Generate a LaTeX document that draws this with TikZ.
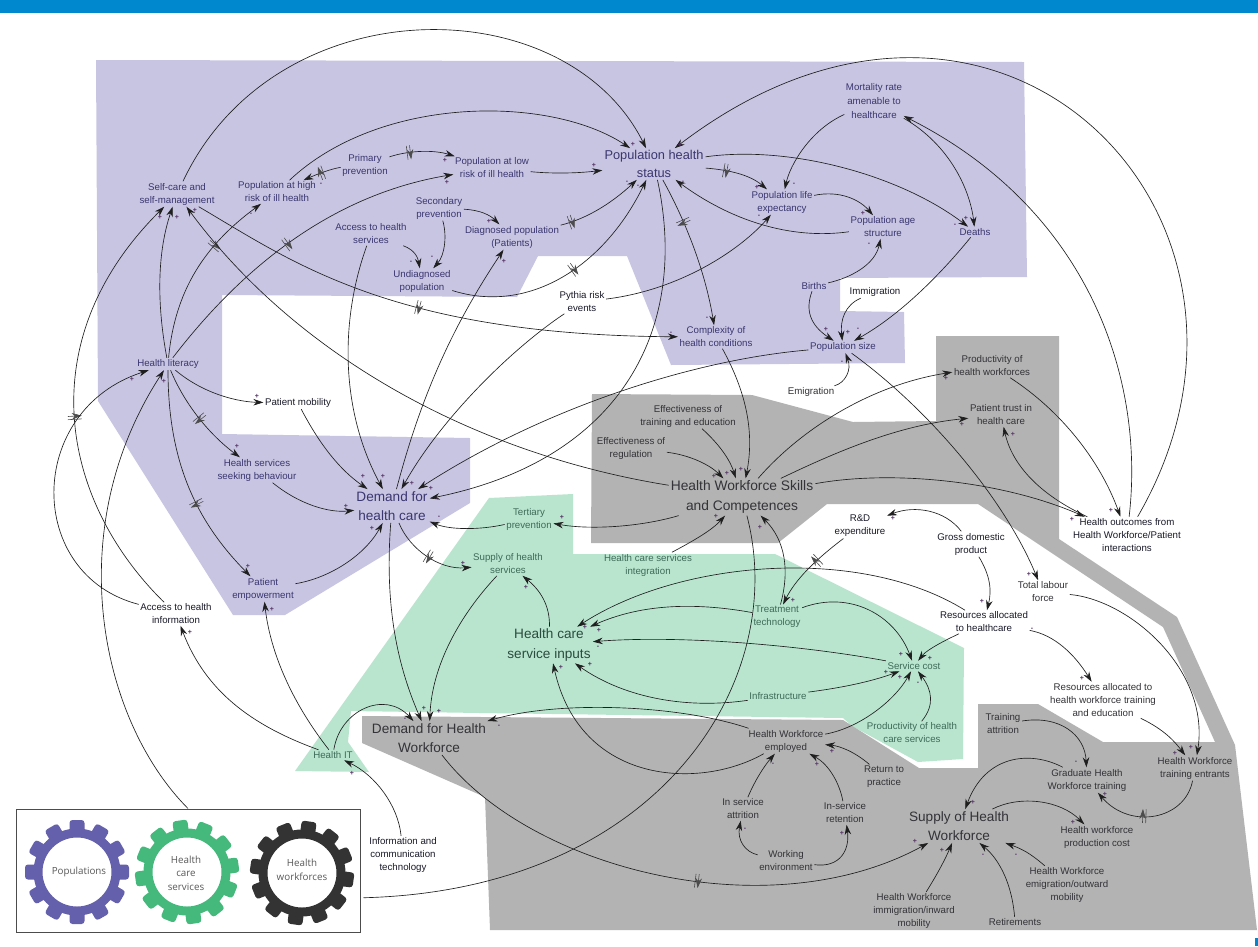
\documentclass[tikz,border=0pt]{standalone}
\usepackage{fontspec}
\setmainfont{Liberation Sans}
\newfontfamily\gearfont{Open Sans}
\usetikzlibrary{arrows.meta,decorations.markings}
\definecolor{purp}{HTML}{C8C5E2}
\definecolor{grn}{HTML}{B9E5CF}
\definecolor{gry}{HTML}{B3B3B3}
\definecolor{barblue}{HTML}{0088CE}
\definecolor{gearp}{HTML}{6460AB}
\definecolor{gearg}{HTML}{45B97C}
\definecolor{geark}{HTML}{333333}
\definecolor{tp}{HTML}{3A3670}
\definecolor{tg}{HTML}{3E6B58}
\definecolor{tk}{HTML}{333338}
\definecolor{tw}{HTML}{1A1A2A}
\definecolor{sgc}{HTML}{553366}
\tikzset{
  lbl/.style={align=center,inner sep=1.5pt,font=\fontsize{9.7}{13}\selectfont},
  big/.style={align=center,inner sep=2pt,font=\fontsize{13.6}{19.5}\selectfont},
  lp/.style={lbl,text=tp}, lg/.style={lbl,text=tg}, lk/.style={lbl,text=tk}, lw/.style={lbl,text=tw},
  lnk/.style={draw=black!88,line width=0.65pt,-{Stealth[length=10pt,width=6.5pt]}},
  plain/.style={draw=black!88,line width=0.65pt},
  hashln/.style={draw=black!70,line width=0.6pt},
  dly/.style={postaction={decorate},decoration={markings,mark=at position #1 with {\draw[hashln] (-1.6,-7)--(-1.6,7) (1.6,-7)--(1.6,7);}}},
  sgn/.style={inner sep=0pt,text=sgc,font=\fontsize{7}{7}\selectfont\bfseries},
  geartxt/.style={align=center,inner sep=0pt,text=black!65,font=\gearfont\fontsize{9.8}{13.5}\selectfont}
}
\newcommand{\lnkc}[5][]{\draw[lnk,#1] (#2) .. controls (#3) and (#4) .. (#5);}
\newcommand{\geardraw}[4]{%
  \foreach \a in {0,30,...,330}{\fill[#4,rounded corners=3pt,rotate around={\a+#3:(#1,#2)}] (#1-7.5,#2-52) rectangle (#1+7.5,#2-40);}
  \fill[#4,even odd rule] (#1,#2) circle (43.5pt) circle (34.5pt);}
\begin{document}
\begin{tikzpicture}[x=1pt,y=-1pt]
\useasboundingbox (0,0) rectangle (1258,946);
\fill[white] (0,0) rectangle (1258,946);
\fill[barblue] (0,0) rectangle (1258,12.5);
\fill[barblue] (1255,938) rectangle (1258,946);
% regions
\fill[purp] (96,60) -- (1024,62) -- (1027,277) -- (840,278) -- (840,311) -- (904,312) -- (905,363) -- (671,365) -- (627,256) -- (538,256) -- (517,297) -- (222,295) -- (222,434) -- (470,438) -- (470,503) -- (285,615) -- (233,615) -- (98,401) -- cycle;
\fill[grn] (489,498) -- (573,494) -- (573,554) -- (775,554) -- (964,648) -- (963,759) -- (918,762) -- (852,726) -- (843,718) -- (480,713) -- (351,711) -- (348,742) -- (369,772) -- (295,771) -- cycle;
\fill[gry] (592,394) -- (752,395) -- (853,422) -- (936,421) -- (936,336) -- (1059,336) -- (1059,539) -- (1177,617) -- (1235,745) -- (1257,930) -- (490,930) -- (485,797) -- (362,743) -- (362,716) -- (843,720) -- (919,768) -- (978,768) -- (978,704) -- (1038,704) -- (1103,742) -- (1215,742) -- (1163,627) -- (978,504) -- (827,504) -- (778,543) -- (591,543) -- cycle;
% legend
\node[draw=black!70,line width=1pt,fill=white,minimum width=344pt,minimum height=123pt,inner sep=0pt] (legend) at (188,870.5) {};
\geardraw{77}{872}{0}{gearp}
\geardraw{187}{872}{8}{gearg}
\geardraw{302}{873}{-8}{geark}
\node[geartxt] (gp) at (79,872) {Populations};
\node[geartxt] (gg) at (186,873) {Health\\care\\services};
\node[geartxt] (gk) at (302,870) {Health\\workforces};
% nodes: purple
\node[lp] (self) at (177,194) {Self-care and\\self-management};
\node[lp] (high) at (277,192) {Population at high\\risk of ill health};
\node[lp] (prim) at (365,165) {Primary\\prevention};
\node[lp] (low) at (492,168) {Population at low\\risk of ill health};
\node[big,text=tp,font=\fontsize{12.8}{18}\selectfont] (phs) at (654,164) {Population health\\status};
\node[lp] (sec) at (439,208) {Secondary\\prevention};
\node[lp] (diag) at (512,237) {Diagnosed population\\(Patients)};
\node[lp] (accs) at (371,234) {Access to health\\services};
\node[lp] (undi) at (422,281) {Undiagnosed\\population};
\node[lw] (pyth) at (582,302) {Pythia risk\\events};
\node[lp,font=\fontsize{9.7}{13.6}\selectfont] (mort) at (874,101) {Mortality rate\\amenable to\\healthcare};
\node[lp] (life) at (782,202) {Population life\\expectancy};
\node[lp] (age) at (883,227) {Population age\\structure};
\node[lp] (death) at (975,232) {Deaths};
\node[lp] (birth) at (814,286) {Births};
\node[lw] (immi) at (875,292) {Immigration};
\node[lp] (cplx) at (716,337) {Complexity of\\health conditions};
\node[lp] (psize) at (843,347) {Population size};
\node[lk] (emi) at (811,392) {Emigration};
\node[lp] (lit) at (168,364) {Health literacy};
\node[lw] (pmob) at (298,403) {Patient mobility};
\node[lp] (seek) at (257,470) {Health services\\seeking behaviour};
\node[lp] (pemp) at (263,589) {Patient\\empowerment};
\node[lw] (ainf) at (176,614) {Access to health\\information};
\node[big,text=tp] (dhc) at (392,506) {Demand for\\health care};
% grey
\node[lk] (prod) at (992,366) {Productivity of\\health workforces};
\node[lk] (trust) at (1001,415) {Patient trust in\\health care};
\node[lw] (outc) at (1127,535) {Health outcomes from\\Health Workforce/Patient\\interactions};
\node[lk] (efft) at (688,416) {Effectiveness of\\training and education};
\node[lk] (effr) at (631,448) {Effectiveness of\\regulation};
\node[big,text=tk,font=\fontsize{13.8}{20}\selectfont] (hws) at (742,497) {Health Workforce Skills\\and Competences};
% white
\node[lw] (rd) at (860,526) {R\&D\\expenditure};
\node[lw] (gdp) at (971,544) {Gross domestic\\product};
\node[lk] (labo) at (1043,592) {Total labour\\force};
\node[lw] (rhc) at (984,622) {Resources allocated\\to healthcare};
\node[lk] (rtr) at (1103,700) {Resources allocated to\\health workforce training\\and education};
\node[lw] (info) at (403,855) {Information and\\communication\\technology};
% green
\node[lg] (tert) at (529,519) {Tertiary\\prevention};
\node[lg] (shs) at (508,564) {Supply of health\\services};
\node[lg] (integ) at (648,565) {Health care services\\integration};
\node[lg] (treat) at (777,617) {Treatment\\technology};
\node[big,text=tg!70!black] (inp) at (549,645) {Health care\\service inputs};
\node[lg] (cost) at (914,666) {Service cost};
\node[lg] (infr) at (778,696) {Infrastructure};
\node[lg] (phc) at (912,733) {Productivity of health\\care services};
\node[lg] (hit) at (333,755) {Health IT};
% grey lower
\node[big,text=tk] (dhw) at (429,738) {Demand for Health\\Workforce};
\node[lk] (emp) at (786,741) {Health Workforce\\employed};
\node[lk] (ret) at (884,777) {Return to\\practice};
\node[lk] (att) at (743,809) {In service\\attrition};
\node[lk] (reten) at (845,813) {In-service\\retention};
\node[lk] (work) at (786,861) {Working\\environment};
\node[big,text=tk] (shw) at (959,826) {Supply of Health\\Workforce};
\node[lk] (himm) at (914,911) {Health Workforce\\immigration/inward\\mobility};
\node[lk] (reti) at (1015,922) {Retirements};
\node[lk] (hemi) at (1067,885) {Health Workforce\\emigration/outward\\mobility};
\node[lk] (pcost) at (1097,837) {Health workforce\\production cost};
\node[lk] (grad) at (1087,780) {Graduate Health\\Workforce training};
\node[lk] (tatt) at (1003,724) {Training\\attrition};
\node[lk] (entr) at (1195,768) {Health Workforce\\training entrants};
% connectors
\lnkc{self}{275,-14}{565,-14}{phs}
\lnkc{high}{380,95}{550,95}{phs}
\lnkc[dly=0.3]{prim}{410,150}{435,150}{low}
\lnkc[dly=0.5]{prim}{335,168}{322,172}{high}
\lnkc{low}{555,174}{580,173}{phs}
\lnkc[dly=0.47]{lit}{240,270}{330,195}{low}
\lnkc{lit}{156,300}{158,250}{self}
\lnkc[dly=0.66]{lit}{175,290}{205,245}{high}
\lnkc[dly=0.47]{ainf}{60,500}{30,340}{self}
\lnkc{ainf}{25,575}{25,410}{lit}
\draw[lnk] (legend.north) .. controls (100,720) and (60,530) .. (lit);
\draw[plain,shorten >=3pt] (hws) .. controls (790,680) and (660,890) .. (legend.-9);
\lnkc{hws}{480,455}{300,360}{self}
\lnkc[dly=0.48]{self}{290,260}{390,335}{cplx}
\lnkc{lit}{205,395}{240,402}{pmob}
\lnkc[dly=0.5]{lit}{185,405}{210,435}{seek}
\lnkc[dly=0.6]{lit}{168,460}{195,520}{pemp}
\lnkc{pmob}{320,445}{340,470}{dhc}
\lnkc{accs}{340,320}{340,410}{dhc}
\lnkc{seek}{300,505}{330,513}{dhc}
\lnkc{pemp}{330,578}{365,555}{dhc}
\lnkc{hit}{290,700}{270,650}{pemp}
\lnkc{hit}{250,725}{205,690}{ainf}
\lnkc{info}{398,805}{375,775}{hit}
\lnkc{hit}{340,710}{385,690}{dhw}
\lnkc{dhc}{385,600}{395,660}{dhw}
\lnkc{shs}{460,615}{432,665}{dhw}
\lnkc[dly=0.5]{dhc}{410,550}{440,570}{shs}
\lnkc{inp}{550,605}{540,590}{shs}
\lnkc{hws}{640,527}{590,530}{tert}
\lnkc{tert}{480,530}{450,530}{dhc}
\lnkc{phs}{690,330}{620,460}{dhc}
\lnkc{psize}{690,360}{540,410}{dhc}
\lnkc{pyth}{510,350}{440,420}{dhc}
\lnkc{dhc}{420,400}{450,330}{diag}
\lnkc{pyth}{680,290}{740,250}{life}
\lnkc[dly=0.52]{undi}{530,315}{605,265}{phs}
\lnkc[dly=0.12]{diag}{590,218}{615,200}{phs}
\lnkc{sec}{480,210}{490,215}{diag}
\lnkc{sec}{447,235}{445,255}{undi}
\lnkc{accs}{415,250}{418,258}{undi}
\lnkc[dly=0.3]{phs}{730,170}{750,175}{life}
\lnkc{phs}{790,145}{900,175}{death}
\lnkc[dly=0.3]{phs}{685,220}{705,270}{cplx}
\lnkc{age}{790,240}{730,220}{phs}
\lnkc{life}{840,190}{860,200}{age}
\lnkc{mort}{810,130}{790,165}{life}
\lnkc{mort}{950,145}{970,190}{death}
\lnkc{outc}{1145,380}{1090,210}{mort}
\lnkc{outc}{1310,220}{1000,-100}{phs}
\lnkc{death}{940,275}{900,315}{psize}
\lnkc{birth}{805,310}{810,325}{psize}
\lnkc{birth}{850,278}{875,265}{age}
\lnkc{immi}{845,305}{840,320}{psize}
\lnkc{emi}{845,383}{852,370}{psize}
\lnkc{psize}{930,410}{1005,500}{labo}
\lnkc{cplx}{745,390}{755,430}{hws}
\lnkc{efft}{720,445}{730,460}{hws}
\lnkc{effr}{690,455}{710,465}{hws}
\lnkc{hws}{800,430}{870,385}{prod}
\lnkc{hws}{840,450}{900,425}{trust}
\lnkc{hws}{890,470}{1000,480}{outc}
\lnkc{prod}{1060,410}{1100,460}{outc}
\lnkc{outc}{1040,495}{1012,465}{trust}
\lnkc{gdp}{945,510}{915,505}{rd}
\lnkc[dly=0.38]{rd}{815,560}{795,580}{treat}
\lnkc{gdp}{990,575}{992,590}{rhc}
\lnkc{rhc}{860,545}{680,560}{inp}
\lnkc{rhc}{935,645}{925,652}{cost}
\lnkc{treat}{710,605}{650,600}{inp}
\lnkc{treat}{850,590}{895,615}{cost}
\lnkc{treat}{790,570}{785,540}{hws}
\lnkc{integ}{695,540}{712,530}{hws}
\lnkc{cost}{800,645}{680,635}{inp}
\lnkc{infr}{680,710}{620,695}{inp}
\lnkc{infr}{840,688}{870,682}{cost}
\lnkc{emp}{860,728}{895,700}{cost}
\lnkc{phc}{935,705}{932,690}{cost}
\lnkc{emp}{680,705}{560,700}{dhw}
\lnkc{emp}{700,790}{580,785}{inp}
\lnkc{att}{755,780}{765,765}{emp}
\lnkc{reten}{840,785}{830,765}{emp}
\lnkc{ret}{855,752}{840,746}{emp}
\lnkc{work}{745,852}{737,840}{att}
\lnkc{work}{840,868}{850,850}{reten}
\lnkc[dly=0.55]{dhw}{530,870}{770,930}{shw}
\lnkc{himm}{935,878}{945,860}{shw}
\lnkc{reti}{1012,885}{1000,860}{shw}
\lnkc{hemi}{1030,853}{1022,849}{shw}
\lnkc{shw}{1020,795}{1060,800}{pcost}
\lnkc{grad}{1030,750}{985,755}{shw}
\lnkc{tatt}{1060,715}{1085,735}{grad}
\lnkc{rhc}{1055,635}{1075,655}{rtr}
\lnkc{rtr}{1165,730}{1175,742}{entr}
\lnkc{labo}{1130,600}{1210,670}{entr}
\lnkc[dly=0.55]{entr}{1185,820}{1130,830}{grad}
% polarity signs
\foreach \x/\y [count=\i] in {160/217,177/217,195/210,445/160,447/182,594/165,633/144,680/145,489/221,504/261,757/187,863/213,966/218,826/329,848/332,946/378,132/379,164/381,257/396,237/446,363/476,383/476,412/483,431/488,346/506,372/528,248/566,272/609,190/632,463/563,727/473,714/476,741/469,716/516,760/527,562/517,526/587,585/627,599/630,590/664,561/667,793/600,893/518,962/424,1013/434,1111/510,1072/519,1029/574,982/601,424/708,439/711,352/773,901/654,930/658,886/672,900/677,817/764,832/751,842/833,973/802,915/841,942/850,1082/678,1175/753,1191/747,1105/794,1073/822}
  \node[sgn] (pl\i) at (\x,\y) {+};
\foreach \x/\y [count=\i] in {251/214,321/184,627/182,638/186,683/182,411/262,432/257,794/184,759/216,869/244,955/225,707/318,671/333,858/329,842/362,437/499,439/517,598/647,1032/629,405/719,499/726,918/683,773/764,745/829,1076/762,983/855,1016/855}
  \node[sgn] (mi\i) at (\x,\y) {-};
\end{tikzpicture}
\end{document}
